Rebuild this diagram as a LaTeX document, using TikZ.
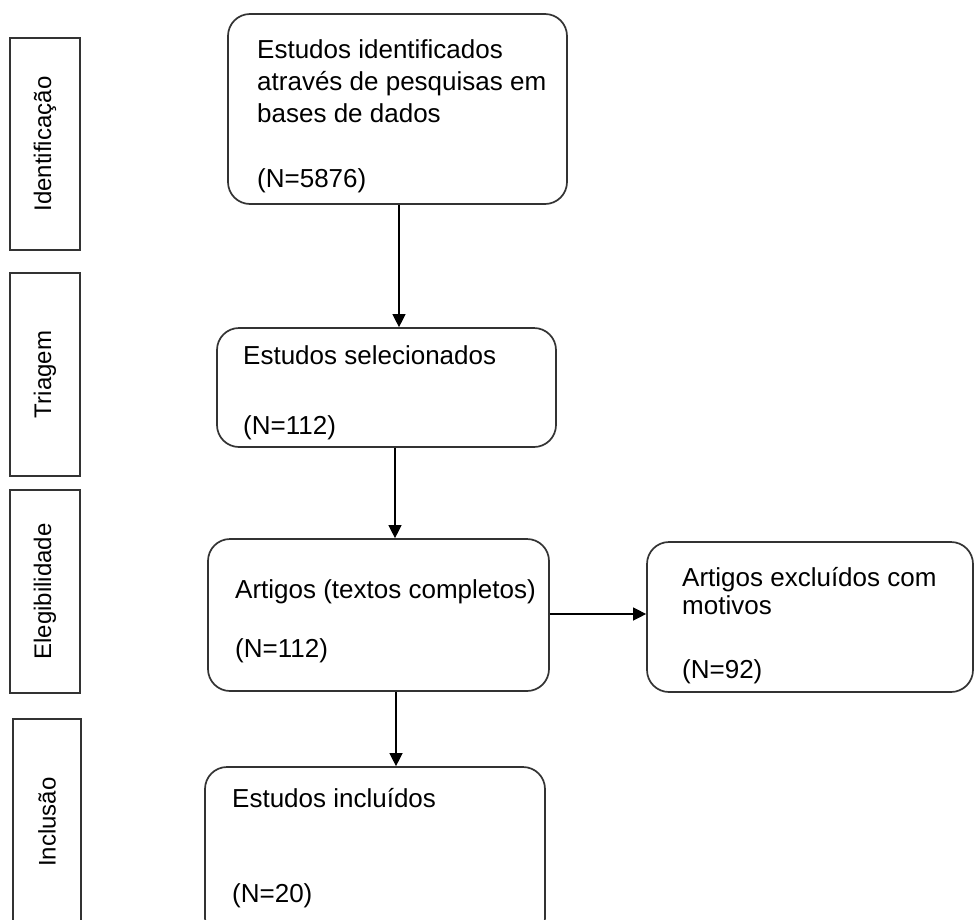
\documentclass[tikz,border=0pt]{standalone}
\usepackage{fontspec}
\setmainfont{Liberation Sans}
\usetikzlibrary{arrows.meta}
\begin{document}
\begin{tikzpicture}[x=1pt,y=-1pt]
\tikzset{
  flow/.style={draw=black!80, line width=1.7pt, rounded corners=22pt, inner sep=0pt},
  stage/.style={draw=black!80, line width=1.7pt, inner sep=0pt, rotate=90,
                font=\fontsize{24}{28}\selectfont},
  txt/.style={anchor=base west, inner sep=0pt, font=\fontsize{26}{30}\selectfont},
  arr/.style={draw=black, line width=1.3pt, -{Triangle[width=13pt,length=13pt]}}
}
\useasboundingbox (0,0) rectangle (975,919);
\clip (0,0) rectangle (975,919);
\fill[white] (0,0) rectangle (975,919);

% stage labels
\node[stage, minimum width=212, minimum height=70] (s1) at (45,144) {Identificação};
\node[stage, minimum width=203, minimum height=70] (s2) at (45,374.5) {Triagem};
\node[stage, minimum width=203, minimum height=70] (s3) at (45,591.5) {Elegibilidade};
\node[stage, minimum width=206, minimum height=68] (s4) at (47,822) {Inclusão};

% flow boxes
\node[flow, minimum width=339, minimum height=190] (b1) at (397.5,109) {};
\node[flow, minimum width=339, minimum height=119] (b2) at (386.5,387.5) {};
\node[flow, minimum width=341, minimum height=152] (b3) at (378.5,615) {};
\node[flow, minimum width=326, minimum height=150] (b4) at (810,617) {};
\node[flow, minimum width=340, minimum height=173] (b5) at (375,853.5) {};

% texts
\node[txt] (t1a) at (257,58) {Estudos identificados};
\node[txt] (t1b) at (257,90) {através de pesquisas em};
\node[txt] (t1c) at (257,122) {bases de dados};
\node[txt] (t1d) at (257,187) {(N=5876)};

\node[txt] (t2a) at (243,364) {Estudos selecionados};
\node[txt] (t2b) at (243,434) {(N=112)};

\node[txt] (t3a) at (235,598) {Artigos (textos completos)};
\node[txt] (t3b) at (235,657) {(N=112)};

\node[txt] (t4a) at (682,586) {Artigos excluídos com};
\node[txt] (t4b) at (682,614) {motivos};
\node[txt] (t4c) at (682,678) {(N=92)};

\node[txt] (t5a) at (232,807) {Estudos incluídos};
\node[txt] (t5b) at (232,902) {(N=20)};

% connectors
\coordinate (c1) at (399,0);
\coordinate (c2) at (395,0);
\coordinate (c3) at (0,614);
\coordinate (c4) at (396,0);
\draw[arr] (b1.south -| c1) -- (b2.north -| c1);
\draw[arr] (b2.south -| c2) -- (b3.north -| c2);
\draw[arr] (b3.east |- c3) -- (b4.west |- c3);
\draw[arr] (b3.south -| c4) -- (b5.north -| c4);
\end{tikzpicture}
\end{document}
